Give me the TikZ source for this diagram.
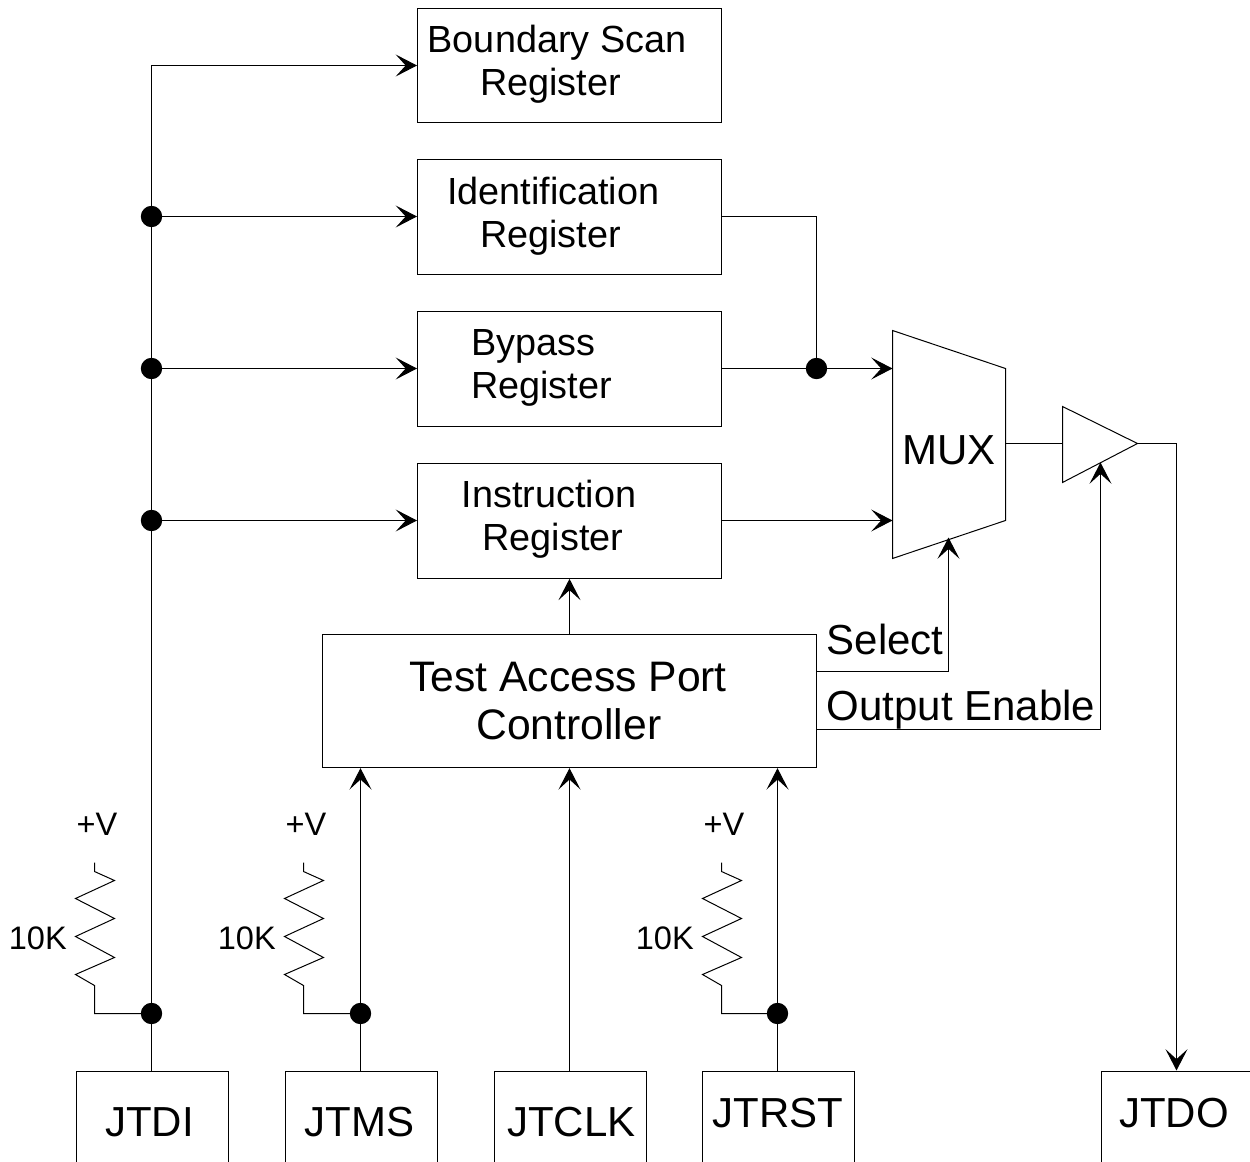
\documentclass[tikz,border=0pt]{standalone}
\usepackage{fontspec}
\setmainfont{Liberation Sans}
\usetikzlibrary{arrows.meta}
\tikzset{
  x=0.75pt,y=-0.75pt,
  wire/.style={line width=0.75pt,draw=black,line join=miter},
  arrowwire/.style={wire,-{Stealth[length=16pt,width=16.5pt,inset=7.5pt]}},
  regbox/.style={wire,rectangle,inner sep=0pt,minimum width=228pt,minimum height=86pt},
  padbox/.style={wire,rectangle,inner sep=0pt,minimum width=114pt,minimum height=100pt,anchor=north west},
  dotn/.style={circle,fill=black,draw=none,inner sep=0pt,minimum size=16pt},
  regtext/.style={font=\fontsize{28.35pt}{32.3pt}\selectfont,inner sep=0pt},
  bigtext/.style={font=\fontsize{31.5pt}{36pt}\selectfont,inner sep=0pt},
  smalltext/.style={font=\fontsize{24.4pt}{28pt}\selectfont,inner sep=0pt},
}
\newcommand{\pullup}[3]{% #1 name, #2 x of stub, #3 x of junction
  \coordinate (#1top) at (#2,863);
  \coordinate (#1bot) at (#2,986);
  \draw[wire] (#1top) -- (#2,872) -- ++(20,9) -- ++(-39,18) -- ++(39,20) -- ++(-39,18)
     -- ++(39,21) -- ++(-39,17) -- (#1bot) |- (#3,1014);
  \node[smalltext] (#1v) at (#2+2.5,824.5) {+V};
  \node[smalltext,anchor=east] (#1r) at (#2-27.5,938.5) {10K};
}
\begin{document}
\begin{tikzpicture}
\useasboundingbox (0,0) rectangle (1250,1162);
\begin{scope}[shift={(-0.5,-0.5)}]
% registers
\node[regbox] (bsr) at (570,66) {};
\node[regbox] (idr) at (570,217.5) {};
\node[regbox] (byp) at (570,369.5) {};
\node[regbox] (ins) at (570,521.5) {};
\node[wire,rectangle,inner sep=0pt,minimum width=370.5pt,minimum height=100pt] (tap) at (570,701.5) {};
\node[regtext,align=center] (bsrt) at (557.5,64.5) {Boundary Scan\\\hspace*{-9.8pt}Register};
\node[regtext,align=center] (idrt) at (553.8,216.5) {Identification\\\hspace*{-4.3pt}Register};
\node[regtext,align=left,anchor=west] (bypt) at (471.5,368.5) {Bypass\\Register};
\node[regtext,align=center] (inst) at (549.5,520) {Instruction\\\hspace*{6pt}Register};
\node[align=center,inner sep=0pt,font=\fontsize{32pt}{36pt}\selectfont] (tapt) at (568.5,701.5) {Test Access Port\\\hspace*{1.2pt}Controller};
% pads
\node[padbox] (jtdi) at (76,1071) {};
\node[padbox] (jtms) at (285,1071) {};
\node[padbox] (jtclk) at (494,1071) {};
\node[padbox] (jtrst) at (702,1071) {};
\node[padbox] (jtdo) at (1101,1071) {};
\node[bigtext] (jtdit) at (150,1122.5) {JTDI};
\node[bigtext] (jtmst) at (360,1122.5) {JTMS};
\node[bigtext] (jtclkt) at (572,1122.5) {JTCLK};
\node[bigtext] (jtrstt) at (778.5,1113.5) {JTRST};
\node[bigtext] (jtdot) at (1174.5,1113.5) {JTDO};
% mux and buffer
\coordinate (muxa) at (893,331);
\coordinate (muxb) at (1006,369);
\coordinate (muxc) at (1006,521);
\coordinate (muxd) at (893,559);
\draw[wire] (muxa) -- (muxb) -- (muxc) -- (muxd) -- cycle;
\node[bigtext] (muxt) at (949.5,450.5) {MUX};
\coordinate (bufa) at (1063,407);
\coordinate (bufb) at (1138,444);
\coordinate (bufc) at (1063,483);
\draw[wire] (bufa) -- (bufb) -- (bufc) -- cycle;
\draw[wire] (1006,444) -- (bufa |- bufb);
% scan bus
\node[dotn] (d1) at (152,217) {};
\node[dotn] (d2) at (152,369) {};
\node[dotn] (d3) at (152,521) {};
\node[dotn] (d4) at (152,1014) {};
\node[dotn] (d5) at (361,1014) {};
\node[dotn] (d6) at (778,1014) {};
\node[dotn] (d7) at (817,369) {};
\draw[wire] (jtdi.north -| d4) -- (d4.center) -- (d3.center) -- (d2.center) -- (d1.center) -- (152,66);
\draw[arrowwire] (152,66) -- (bsr.west);
\draw[arrowwire] (d1.center) -- (idr.west |- d1);
\draw[arrowwire] (d2.center) -- (byp.west |- d2);
\draw[arrowwire] (d3.center) -- (ins.west |- d3);
% register outputs
\draw[wire] (idr.east |- 0,217) -| (d7.center);
\draw[arrowwire] (byp.east |- d7) -- (muxa |- d7);
\draw[arrowwire] (ins.east |- d3) -- (muxa |- d3);
% controller
\draw[arrowwire] (tap.north) -- (ins.south);
\coordinate (selt) at (949,538);
\coordinate (oet) at (1101,463);
\draw[arrowwire] (tap.east |- 0,672) -| (selt);
\draw[arrowwire] (tap.east |- 0,730) -| (oet);
\node[bigtext,anchor=west] (sel) at (827,639.5) {Select};
\node[bigtext,anchor=west] (oen) at (827,710.5) {Output Enable};
% inputs
\draw[arrowwire] (d5 |- jtms.north) -- (d5 |- tap.south);
\draw[arrowwire] (jtclk.north -| tap.south) -- (tap.south);
\draw[arrowwire] (d6 |- jtrst.north) -- (d6 |- tap.south);
% output
\draw[arrowwire] (bufb) -- (1177,444) -- (1177,1071);
% pull-ups
\pullup{ra}{95}{152}
\pullup{rb}{304}{361}
\pullup{rc}{722}{778}
\end{scope}
\end{tikzpicture}
\end{document}
